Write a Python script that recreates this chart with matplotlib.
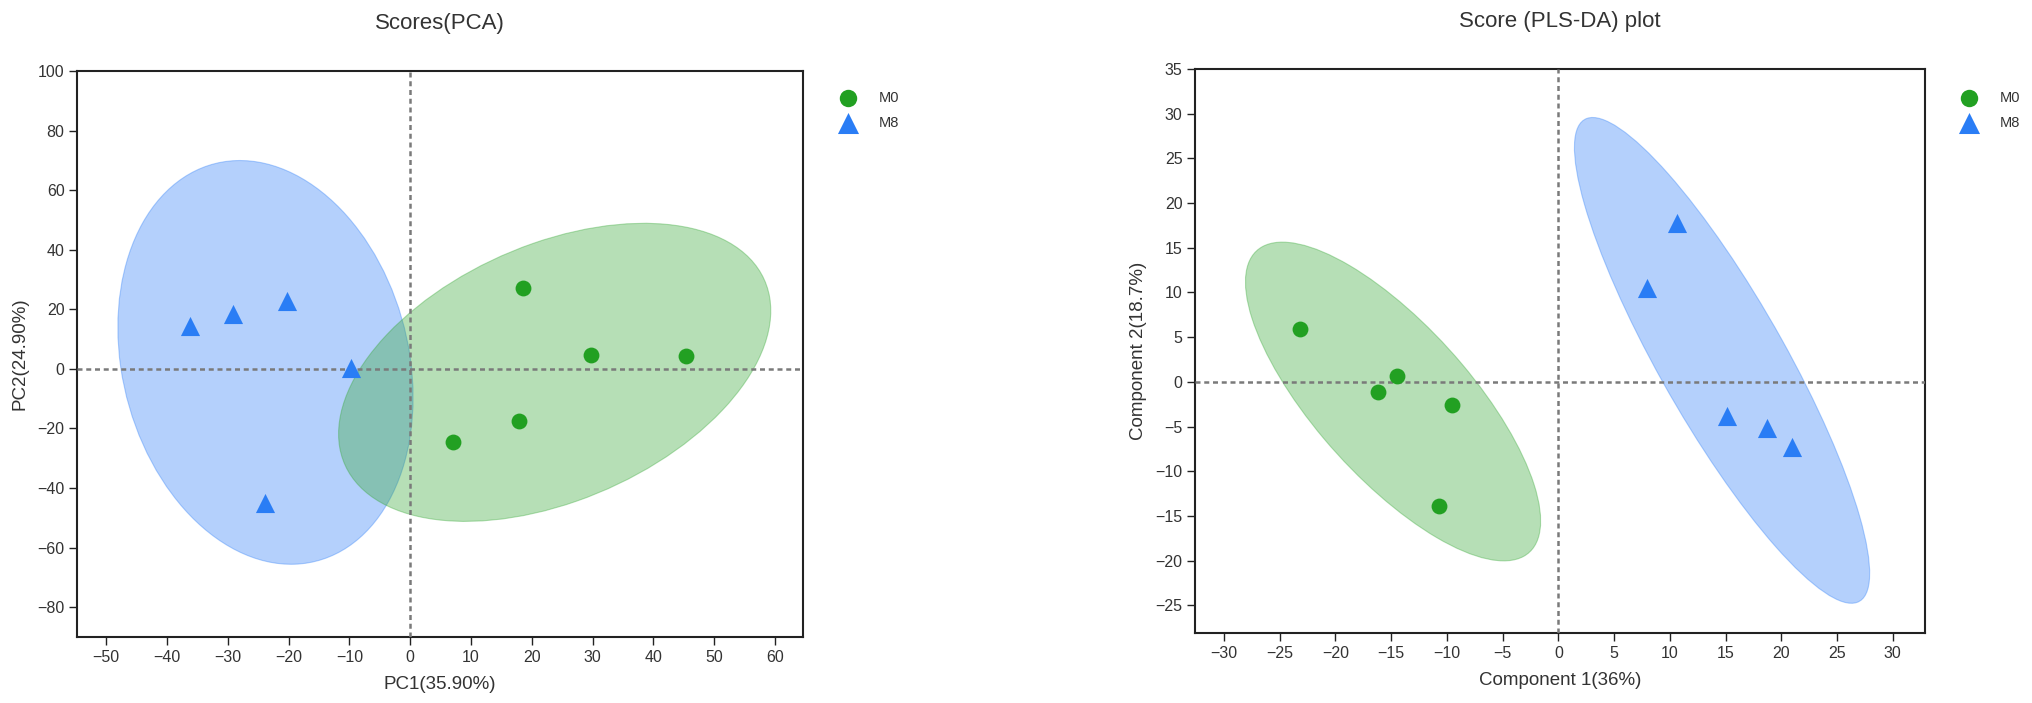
import numpy as np
import matplotlib
matplotlib.use("Agg")
import matplotlib.pyplot as plt
from matplotlib.patches import Ellipse

plt.rcParams['font.family'] = ['Liberation Sans', 'DejaVu Sans']

# PCA scores
pca_m0_x = [18.6, 29.8, 45.4, 17.9, 7.1]
pca_m0_y = [27.1, 4.8, 4.2, -17.4, -24.5]
pca_m8_x = [-36.2, -29.1, -20.2, -9.7, -23.8]
pca_m8_y = [14.4, 18.5, 22.7, 0.3, -45.0]

# PLS-DA scores
pls_m0_x = [-23.2, -14.5, -16.2, -9.5, -10.75]
pls_m0_y = [5.9, 0.7, -1.1, -2.6, -13.9]
pls_m8_x = [10.65, 8.0, 15.1, 18.7, 21.0]
pls_m8_y = [17.8, 10.5, -3.8, -5.2, -7.3]

groups = ['M0', 'M8']
green = '#22a022'
blue = '#2a7df5'
fill_green = '#36a836'
fill_blue = '#2f7ff8'
text_col = '#333333'
chi2_95 = 5.991  # 2 dof


def conf_ellipse(ax, x, y, color, z):
    # 95% covariance ellipse around the group mean
    x = np.asarray(x)
    y = np.asarray(y)
    cov = np.cov(x, y)
    vals, vecs = np.linalg.eigh(cov)
    order = vals.argsort()[::-1]
    vals, vecs = vals[order], vecs[:, order]
    angle = np.degrees(np.arctan2(vecs[1, 0], vecs[0, 0]))
    k = np.sqrt(chi2_95)
    e = Ellipse((x.mean(), y.mean()), 2 * k * np.sqrt(vals[0]), 2 * k * np.sqrt(vals[1]),
                angle=angle, facecolor=color, alpha=0.36, edgecolor=color, lw=0.8, zorder=z)
    ax.add_patch(e)


def score_plot(ax, m0, m8, xlim, ylim, xticks, yticks, title, xlabel, ylabel, legend_xy):
    conf_ellipse(ax, m8[0], m8[1], fill_blue, 1)
    conf_ellipse(ax, m0[0], m0[1], fill_green, 2)
    ax.axhline(0, color='#7a7a7a', lw=1.8, ls=(0, (2.0, 1.5)), zorder=3)
    ax.axvline(0, color='#7a7a7a', lw=1.8, ls=(0, (2.0, 1.5)), zorder=3)
    h0 = ax.scatter(m0[0], m0[1], s=130, marker='o', color=green, linewidths=0, zorder=4, label=groups[0])
    h1 = ax.scatter(m8[0], m8[1], s=190, marker='^', color=blue, linewidths=0, zorder=4, label=groups[1])
    ax.set_xlim(*xlim)
    ax.set_ylim(*ylim)
    ax.set_xticks(xticks)
    ax.set_yticks(yticks)
    ax.tick_params(direction='out', length=6, width=1.0, colors='#222222', labelcolor=text_col,
                   labelsize=11.5, pad=3)
    for sp in ax.spines.values():
        sp.set_linewidth(1.5)
        sp.set_color('#222222')
    ax.set_title(title, fontsize=16, color=text_col, pad=30)
    ax.set_xlabel(xlabel, fontsize=13.5, color=text_col, labelpad=8)
    ax.set_ylabel(ylabel, fontsize=13.5, color=text_col, labelpad=6)
    ax.legend(handles=[h0, h1], loc='upper left', bbox_to_anchor=legend_xy,
              bbox_transform=ax.figure.transFigure, frameon=False, fontsize=10.5,
              handletextpad=1.1, labelspacing=0.75, markerscale=1.1, borderpad=0,
              labelcolor=text_col)


fig = plt.figure(figsize=(20.32, 7.03), dpi=100)
ax1 = fig.add_axes([77 / 2032, 66 / 703, 726 / 2032, 566 / 703])
ax2 = fig.add_axes([1195 / 2032, 70 / 703, 730 / 2032, 564 / 703])

score_plot(ax1, (pca_m0_x, pca_m0_y), (pca_m8_x, pca_m8_y), (-54.8, 64.6), (-90, 100),
           np.arange(-50, 61, 10), np.arange(-80, 101, 20), 'Scores(PCA)',
           'PC1(35.90%)', 'PC2(24.90%)', (826 / 2032, 1 - 84 / 703))
score_plot(ax2, (pls_m0_x, pls_m0_y), (pls_m8_x, pls_m8_y), (-32.6, 32.9), (-28.1, 35),
           np.arange(-30, 31, 5), np.arange(-25, 36, 5), 'Score (PLS-DA) plot',
           'Component 1(36%)', 'Component 2(18.7%)', (1947 / 2032, 1 - 84 / 703))

fig.savefig('out.png', dpi=100)
